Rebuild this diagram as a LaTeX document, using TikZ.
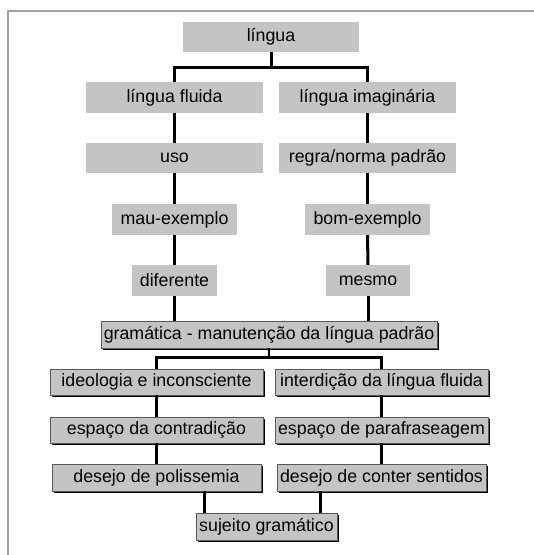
\documentclass[tikz,border=0pt]{standalone}
\usepackage{fontspec}
\setmainfont{Liberation Sans}
\usetikzlibrary{shadows}
\definecolor{boxgray}{RGB}{196,196,196}
\definecolor{framegray}{RGB}{160,160,160}
\begin{document}
\begin{tikzpicture}[x=1pt, y=-1pt,
  topbox/.style={fill=boxgray, inner sep=0pt, minimum height=30pt, font=\fontsize{17.8}{20}\selectfont},
  lowbox/.style={fill=boxgray, draw=gray!70!black, line width=0.8pt, inner sep=0pt, minimum height=27pt,
    drop shadow={shadow xshift=1.5pt, shadow yshift=-2pt, fill=black, opacity=1},
    font=\fontsize{17.8}{20}\selectfont},
  toplink/.style={line width=3pt},
  lowlink/.style={line width=2.2pt}]
  % frame
  \useasboundingbox (0,0) rectangle (534,555);
  \draw[framegray, line width=2pt] (8,555) -- (8,11) -- (534,11);
  % upper boxes
  \node[topbox, minimum width=176pt] (lingua) at (271,37) {língua};
  \node[topbox, minimum width=177pt, minimum height=31pt] (fluida) at (174.5,97.5) {língua fluida};
  \node[topbox, minimum width=177pt, minimum height=31pt] (imag) at (367.5,97.5) {língua imaginária};
  \node[topbox, minimum width=177pt] (uso) at (174.5,158) {uso};
  \node[topbox, minimum width=177pt] (regra) at (367.5,158) {regra/norma padrão};
  \node[topbox, minimum width=125pt, minimum height=31pt] (mau) at (174.5,219.5) {mau-exemplo};
  \node[topbox, minimum width=125pt, minimum height=31pt] (bom) at (367.5,219.5) {bom-exemplo};
  \node[topbox, minimum width=85pt, minimum height=31pt] (dif) at (174.5,280.5) {diferente};
  \node[topbox, minimum width=84pt, minimum height=31pt] (mesmo) at (368,280.5) {mesmo};
  % lower boxes
  \node[lowbox, minimum width=336pt] (gram) at (269,334.5) {gramática - manutenção da língua padrão};
  \node[lowbox, minimum width=213pt, minimum height=26pt] (ideo) at (156.5,382) {ideologia e inconsciente};
  \node[lowbox, minimum width=213pt, minimum height=26pt] (inter) at (381.5,382) {interdição da língua fluida};
  \node[lowbox, minimum width=213pt, minimum height=26pt] (contr) at (156.5,430) {espaço da contradição};
  \node[lowbox, minimum width=213pt, minimum height=26pt] (paraf) at (381.5,430) {espaço de parafraseagem};
  \node[lowbox, minimum width=209pt] (polis) at (156.5,477.5) {desejo de polissemia};
  \node[lowbox, minimum width=209pt] (conter) at (381.5,477.5) {desejo de conter sentidos};
  \node[lowbox, minimum width=141pt] (sujeito) at (266.5,526.5) {sujeito gramático};
  % connectors
  \draw[toplink] (lingua.south) -- ++(0,15) -| (fluida.north);
  \draw[toplink] (lingua.south) -- ++(0,15) -| (imag.north);
  \draw[toplink] (fluida) -- (uso);
  \draw[toplink] (imag) -- (regra);
  \draw[toplink] (uso) -- (mau);
  \draw[toplink] (regra) -- (bom);
  \draw[toplink] (mau) -- (dif);
  \draw[toplink] (bom) -- (mesmo);
  \draw[toplink] (dif.south) -- (dif.south |- gram.north);
  \draw[toplink] (mesmo.south) -- (mesmo.south |- gram.north);
  \draw[lowlink] (gram.south) -- ++(0,9) -| (ideo.north);
  \draw[lowlink] (gram.south) -- ++(0,9) -| (inter.north);
  \draw[lowlink] (ideo) -- (contr);
  \draw[lowlink] (inter) -- (paraf);
  \draw[lowlink] (contr) -- (polis);
  \draw[lowlink] (paraf) -- (conter);
  \draw[toplink] ([xshift=47.5pt]polis.south) -- ([xshift=47.5pt]polis.south |- sujeito.north);
  \draw[toplink] ([xshift=-61.5pt]conter.south) -- ([xshift=-61.5pt]conter.south |- sujeito.north);
\end{tikzpicture}
\end{document}
